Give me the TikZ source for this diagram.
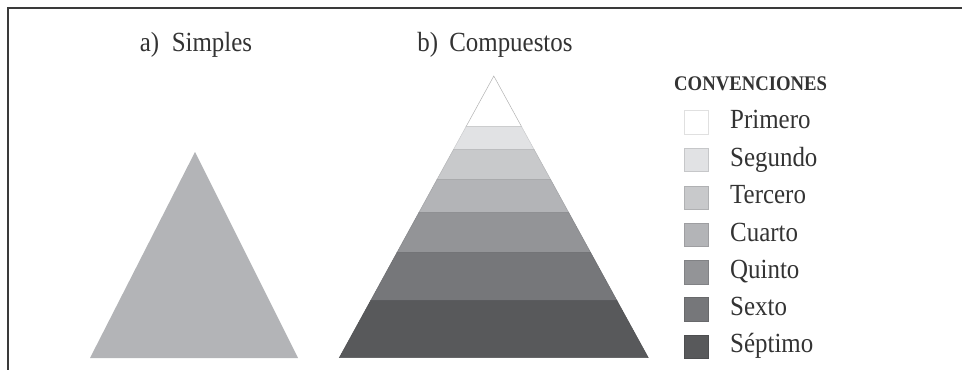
\documentclass[tikz,border=0pt]{standalone}
\usepackage{fontspec}
\setmainfont{Liberation Serif}[FakeStretch=0.9]
\definecolor{cA}{HTML}{FFFFFF}
\definecolor{cB}{HTML}{E1E2E4}
\definecolor{cC}{HTML}{C8C9CB}
\definecolor{cD}{HTML}{B3B4B7}
\definecolor{cE}{HTML}{939497}
\definecolor{cF}{HTML}{76777A}
\definecolor{cG}{HTML}{58595B}
\definecolor{frame}{HTML}{3A3A3A}
\tikzset{
  headtxt/.style={font=\fontsize{27.7}{30}\selectfont, text=black!80, inner sep=0pt, anchor=base},
  legtxt/.style={font=\fontsize{27.7}{30}\selectfont, text=black!80, inner sep=0pt, anchor=base west},
  legsq/.style={minimum width=24pt, minimum height=23.3pt, inner sep=0pt, draw=#1!88!black, line width=0.5pt, fill=#1},
  layer/.style={fill=#1, draw=#1!90!black, line width=0.5pt}
}
\begin{document}
\begin{tikzpicture}[x=1pt,y=-1pt]
\useasboundingbox (0,0) rectangle (962,370);
% frame
\draw[frame, line width=2pt] (962,8) -- (8,8) -- (8,370);
% titles
\node[headtxt] (ta) at (196,51.7) {a)\hspace{0.45em}Simples};
\node[headtxt] (tb) at (495,51.7) {b)\hspace{0.4em}Compuestos};
% simple triangle
\fill[cD] (195,152) -- (298,358) -- (90,358) -- cycle;
% compound pyramid
\def\cx{493.8}
\draw[fill=white, draw=black!30, line width=0.5pt] (\cx,76) -- (\cx+27.8,126.7) -- (\cx-27.8,126.7) -- cycle;
\draw[layer=cB] (\cx-27.8,126.7) -- (\cx+27.8,126.7) -- (\cx+40.2,149.3) -- (\cx-40.2,149.3) -- cycle;
\draw[layer=cC] (\cx-40.2,149.3) -- (\cx+40.2,149.3) -- (\cx+56.7,179.3) -- (\cx-56.7,179.3) -- cycle;
\draw[layer=cD] (\cx-56.7,179.3) -- (\cx+56.7,179.3) -- (\cx+75.0,212.7) -- (\cx-75.0,212.7) -- cycle;
\draw[layer=cE] (\cx-75.0,212.7) -- (\cx+75.0,212.7) -- (\cx+96.7,252.3) -- (\cx-96.7,252.3) -- cycle;
\draw[layer=cF] (\cx-96.7,252.3) -- (\cx+96.7,252.3) -- (\cx+123.2,300.7) -- (\cx-123.2,300.7) -- cycle;
\draw[layer=cG] (\cx-123.2,300.7) -- (\cx+123.2,300.7) -- (\cx+154.5,357.7) -- (\cx-154.5,357.7) -- cycle;
% legend
\node[font=\bfseries\fontsize{20.8}{23}\selectfont, text=black!80, inner sep=0pt, anchor=base west] (conv) at (674,90) {CONVENCIONES};
\foreach \c/\t/\y [count=\i] in {cA/Primero/122.3, cB/Segundo/160, cC/Tercero/197.7, cD/Cuarto/235, cE/Quinto/272.3, cF/Sexto/309.3, cG/Séptimo/346.7}{
  \node[legsq=\c] (sq\i) at (696.3,\y) {};
  \node[legtxt] (lt\i) at (730,\y+6) {\t};
}
\end{tikzpicture}
\end{document}
